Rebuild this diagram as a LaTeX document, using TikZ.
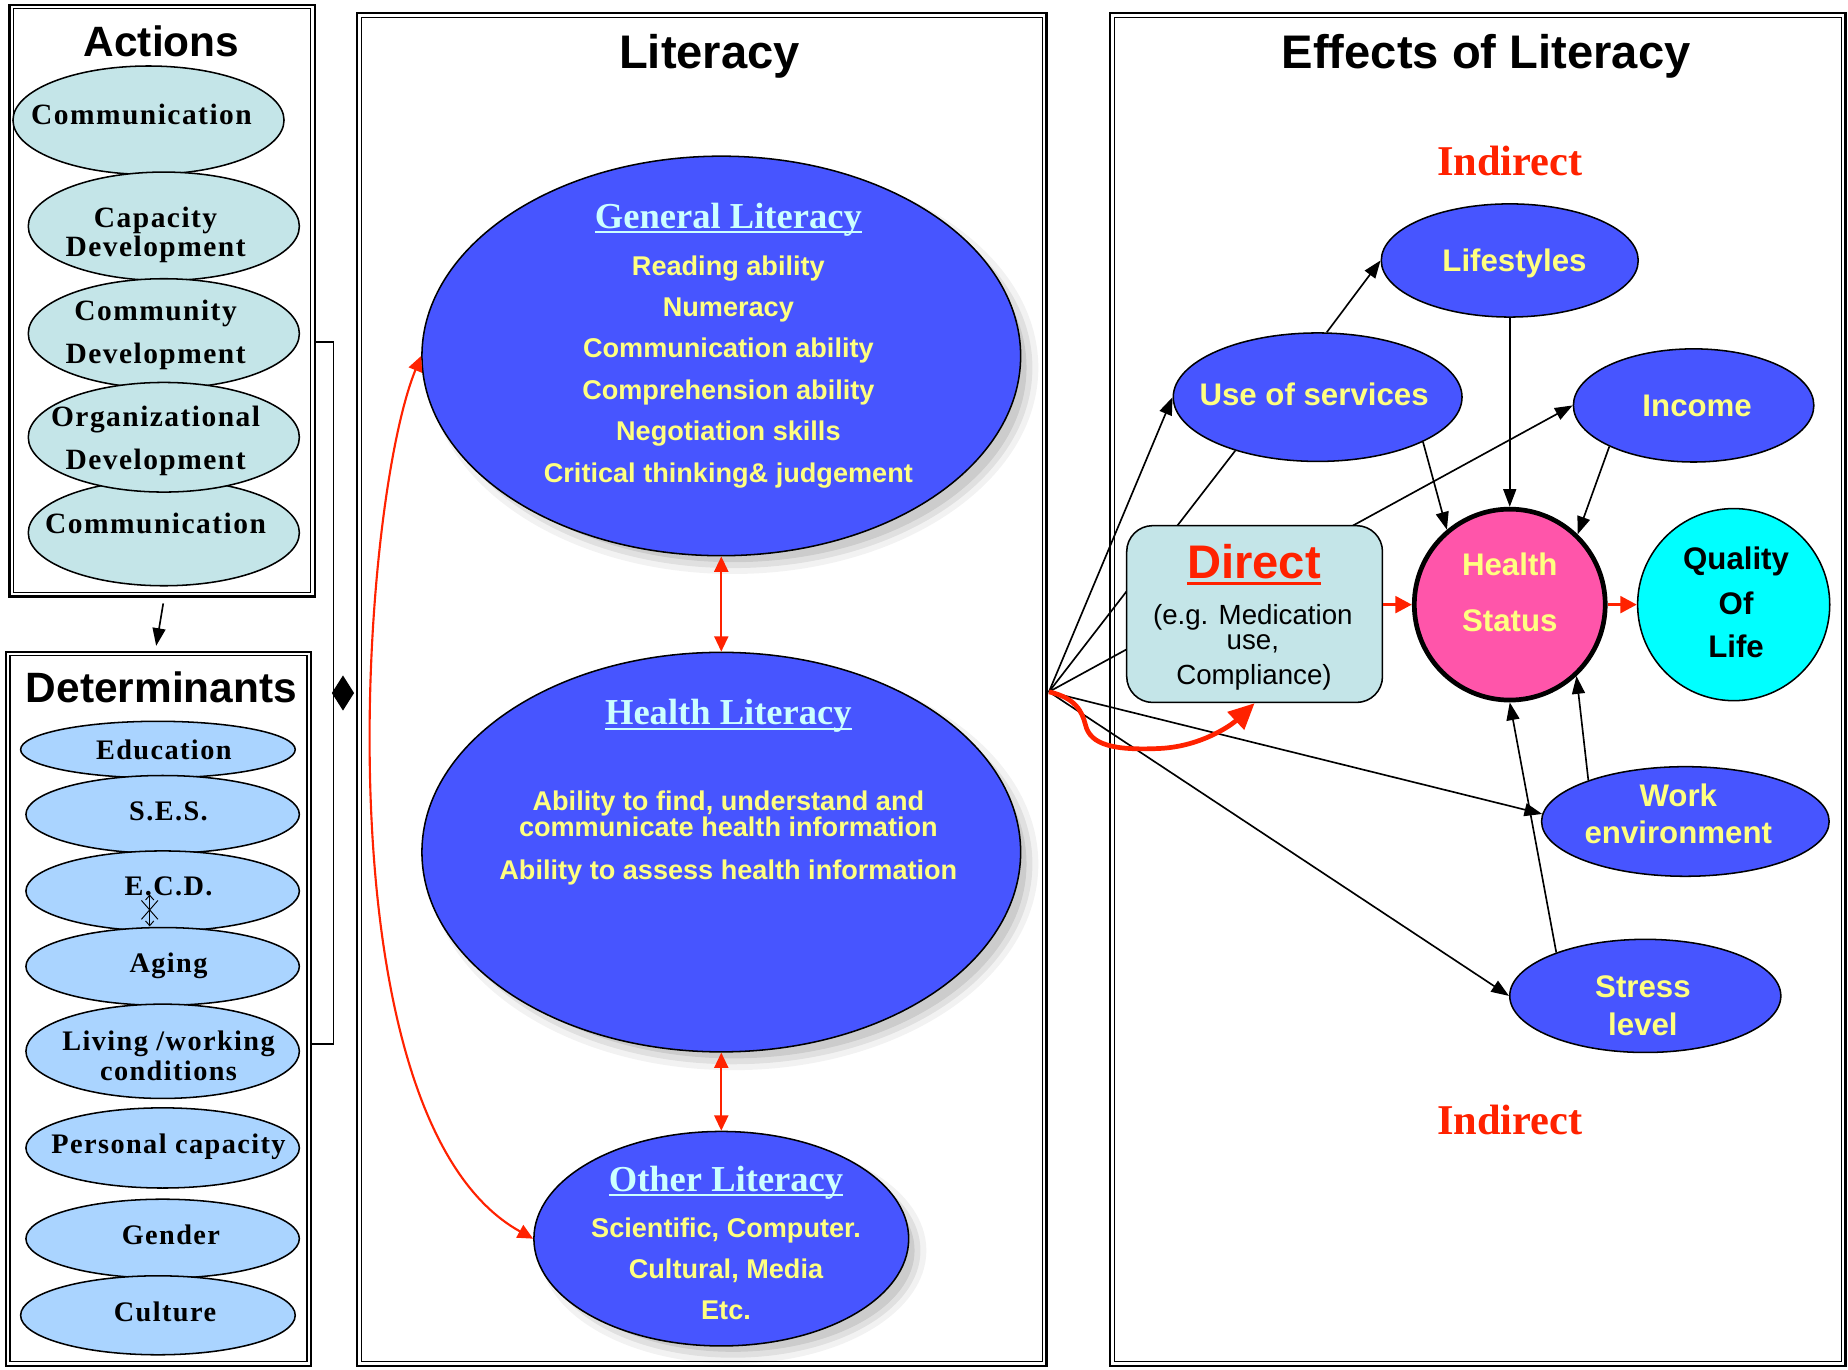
\documentclass[tikz,border=0pt]{standalone}
\usepackage{fontspec}
\setmainfont{Liberation Serif}
\newfontfamily\arial{Liberation Sans}
\newfontfamily\tnrw{Liberation Serif}[LetterSpace=5]
\usetikzlibrary{shapes.geometric,arrows.meta,calc}
\definecolor{actfill}{HTML}{C4E5E8}
\definecolor{detfill}{HTML}{AAD4FF}
\definecolor{litblue}{HTML}{4755FF}
\definecolor{ylw}{HTML}{FFFF80}
\definecolor{cyantxt}{HTML}{CCFFFF}
\definecolor{redc}{HTML}{FF2200}
\definecolor{pinkc}{HTML}{FF55AA}
\definecolor{qolc}{HTML}{00FFFF}
\newcommand\myul[3]{\setbox0=\hbox{#3}\rlap{\rule[#1]{\wd0}{#2}}\box0}
\newcommand\softshadow[4]{\foreach \k/\o in {0/0.09,5/0.07,10/0.05}{\fill[black,opacity=\o] (#1+10,#2+10) ellipse [x radius=#3-5+\k, y radius=#4-5+\k];}}
\newcommand\panel[5]{%
  \node[draw, line width=2pt, inner sep=0pt, minimum width=#4, minimum height=#5] (#1) at (#2,#3) {};
  \draw[line width=0.9pt] ($(#1.south west)+(4.5,-4.5)$) rectangle ($(#1.north east)+(-4.5,4.5)$);}
\begin{document}
\begin{tikzpicture}[x=1pt,y=-1pt,
  ell/.style={ellipse, draw=black, line width=1.3pt, inner sep=0pt},
  t/.style={anchor=base, inner sep=0pt},
  ttl/.style={t, font=\arial\bfseries\fontsize{36}{40}\selectfont},
  ttlL/.style={t, font=\arial\bfseries\fontsize{40}{44}\selectfont},
  actt/.style={t, font=\tnrw\bfseries\fontsize{25}{28}\selectfont},
  dett/.style={t, font=\tnrw\bfseries\fontsize{24}{26}\selectfont},
  littl/.style={t, text=cyantxt, font=\bfseries\fontsize{31}{34}\selectfont},
  lity/.style={t, text=ylw, font=\arial\bfseries\fontsize{23}{26}\selectfont},
  effy/.style={t, text=ylw, font=\arial\bfseries\fontsize{26.5}{30}\selectfont},
  effk/.style={t, text=black, font=\arial\bfseries\fontsize{26.5}{30}\selectfont},
  smallt/.style={t, text=black, font=\arial\fontsize{23.5}{26}\selectfont},
  ind/.style={t, text=redc, font=\bfseries\fontsize{36}{40}\selectfont},
  arr/.style={-{Triangle[length=15pt,width=11pt]}, line width=1.4pt},
  redd/.style={{Triangle[length=13pt,width=12pt]}-{Triangle[length=13pt,width=12pt]}, draw=redc, line width=1.5pt},
  reds/.style={-{Triangle[length=14pt,width=14pt]}, draw=redc, line width=3pt}
]
\useasboundingbox (0,0) rectangle (1568,1162);
\fill[white] (0,0) rectangle (1568,1162);

% ---------- panels ----------
\panel{actbox}{137.5}{255}{259}{502}
\panel{detbox}{134.5}{856}{259}{606}
\panel{litbox}{595.5}{585}{585}{1148}
\panel{effbox}{1254}{585}{624}{1148}

\node[ttl] (tAct) at (137,48) {Actions};
\node[ttl] (tDet) at (137,596) {Determinants};
\node[ttlL] (tLit) at (602,58) {Literacy};
\node[ttlL] (tEff) at (1261,58) {Effects of Literacy};

% ---------- Actions ----------
\node[ell, fill=actfill, minimum width=230, minimum height=92] (a1) at (126,102) {};
\node[ell, fill=actfill, minimum width=230, minimum height=92] (a2) at (139,192) {};
\node[ell, fill=actfill, minimum width=230, minimum height=93] (a3) at (139,283) {};
\node[ell, fill=actfill, minimum width=230, minimum height=90] (a5) at (139,452) {};
\node[ell, fill=actfill, minimum width=230, minimum height=93] (a4) at (139,371) {};
\node[actt] (a1t) at (120,106) {Communication};
\node[actt] (a2t) at (132,193) {Capacity};
\node[actt] (a2u) at (132,218) {Development};
\node[actt] (a3t) at (132,272) {Community};
\node[actt] (a3u) at (132,308) {Development};
\node[actt] (a4t) at (132,362) {Organizational};
\node[actt] (a4u) at (132,398) {Development};
\node[actt] (a5t) at (132,453) {Communication};

% ---------- Determinants ----------
\node[ell, fill=detfill, minimum width=233, minimum height=48] (d1) at (134,636) {};
\node[ell, fill=detfill, minimum width=232, minimum height=66] (d2) at (138,691) {};
\node[ell, fill=detfill, minimum width=232, minimum height=68] (d3) at (138,756) {};
\node[ell, fill=detfill, minimum width=232, minimum height=66] (d4) at (138,820) {};
\node[ell, fill=detfill, minimum width=232, minimum height=80] (d5) at (138,892) {};
\node[ell, fill=detfill, minimum width=232, minimum height=68] (d6) at (138,974) {};
\node[ell, fill=detfill, minimum width=232, minimum height=67] (d7) at (138,1051) {};
\node[ell, fill=detfill, minimum width=233, minimum height=67] (d8) at (134,1116) {};
\node[dett] (d1t) at (139,644) {Education};
\node[dett] (d2t) at (143,696) {S.E.S.};
\node[dett] (d3t) at (143,760) {E.C.D.};
\node[dett] (d4t) at (143,825) {Aging};
\node[dett] (d5t) at (143,891) {Living /working};
\node[dett] (d5u) at (143,917) {conditions};
\node[dett] (d6t) at (143,979) {Personal capacity};
\node[dett] (d7t) at (145,1056) {Gender};
\node[dett] (d8t) at (140,1121) {Culture};
% small glyph under E.C.D.
\draw[line width=0.8pt, {Straight Barb[length=4pt,width=7pt]}-{Straight Barb[length=4pt,width=7pt]}] (127,759) -- (127,786);
\draw[line width=0.8pt] (120,764) -- (134,780) (134,764) -- (120,780);

% ---------- left connectors ----------
\draw[arr] ($(actbox.south)+(1,5)$) -- ($(detbox.north)+(-2,-4)$);
\coordinate (brTop) at (283,290);
\coordinate (brBot) at (283,886);
\draw[line width=1.6pt] (actbox.east |- brTop) -- (brTop) -- (brBot) -- (detbox.east |- brBot);
\node[diamond, fill=black, inner sep=0pt, minimum width=19, minimum height=30] (dia) at (291,588) {};

% ---------- Literacy ----------
\softshadow{612}{302}{254}{170}
\softshadow{612}{723}{254}{170}
\softshadow{612}{1051}{159}{91}
\node[ell, fill=litblue, minimum width=508, minimum height=339] (gen) at (612,302) {};
\node[ell, fill=litblue, minimum width=508, minimum height=339] (hl) at (612,723) {};
\node[ell, fill=litblue, minimum width=318, minimum height=182] (ol) at (612,1051) {};

\node[littl] (genT) at (618,194) {\myul{-4pt}{1.6pt}{General Literacy}};
\node[lity] (g1) at (618,233.6) {Reading ability};
\node[lity] (g2) at (618,268.6) {Numeracy};
\node[lity] (g3) at (618,303.6) {Communication ability};
\node[lity] (g4) at (618,338.6) {Comprehension ability};
\node[lity] (g5) at (618,373.6) {Negotiation skills};
\node[lity] (g6) at (618,409.6) {Critical thinking\& judgement};

\node[littl] (hlT) at (618,615) {\myul{-4pt}{1.6pt}{Health Literacy}};
\node[lity] (h1) at (618,688) {Ability to find, understand and};
\node[lity] (h2) at (618,710) {communicate health information};
\node[lity] (h3) at (618,746) {Ability to assess health information};

\node[littl] (olT) at (616,1011) {\myul{-4pt}{1.6pt}{Other Literacy}};
\node[lity] (o1) at (616,1049.6) {Scientific, Computer.};
\node[lity] (o2) at (616,1084.6) {Cultural, Media};
\node[lity] (o3) at (616,1119.6) {Etc.};

\draw[redd] (gen.south) -- (hl.north);
\draw[redd] (hl.south) -- (ol.north);
\draw[redd, line width=1.8pt] (gen.west) .. controls (305,430) and (270,950) .. (ol.west);

% ---------- Effects ----------
\node[ind] (ind1) at (1281,149) {Indirect};
\node[ind] (ind2) at (1281,963) {Indirect};

\coordinate (hub) at (890,587);

\node[ell, fill=litblue, minimum width=218, minimum height=96] (life) at (1281,221) {};
\node[ell, fill=litblue, minimum width=245, minimum height=109] (use) at (1118,337) {};
\node[ell, fill=litblue, minimum width=204, minimum height=96] (income) at (1437,344) {};
\node[ell, fill=litblue, minimum width=244, minimum height=93] (work) at (1430,697) {};
\node[ell, fill=litblue, minimum width=230, minimum height=96] (stress) at (1396,845) {};

% lines from hub (behind the Direct box)
\draw[line width=1.4pt] (hub) -- (use.213);
\draw[arr] (hub) -- (income.west);
\draw[arr] (hub) -- (use.west);
\draw[arr] (hub) -- (work.177);
\draw[arr] (hub) -- (stress.west);

\node[draw=black, line width=1.3pt, fill=actfill, rounded corners=22pt, inner sep=0pt, minimum width=217, minimum height=150] (direct) at (1064.5,521) {};
\node[t, text=redc, font=\arial\bfseries\fontsize{40}{44}\selectfont] (dirT) at (1064,491) {\myul{-5.5pt}{2.6pt}{Direct}};
\node[smallt] (dir1) at (1063,530) {(e.g. Medication};
\node[smallt] (dir2) at (1063,551) {use,};
\node[smallt] (dir3) at (1064,581) {Compliance)};

\node[circle, draw=black, line width=4pt, fill=pinkc, inner sep=0pt, minimum size=162] (hs) at (1281,513) {};
\node[ellipse, draw=black, line width=1.3pt, fill=qolc, inner sep=0pt, minimum width=163, minimum height=163] (qol) at (1471,513) {};

\node[effy] (lifeT) at (1285,230.7) {Lifestyles};
\node[effy] (useT) at (1115,343.7) {Use of services};
\node[effy] (incT) at (1440,353.7) {Income};
\node[effy] (hsT1) at (1281,488) {Health};
\node[effy] (hsT2) at (1281,536) {Status};
\node[effk] (q1) at (1473,483) {Quality};
\node[effk] (q2) at (1473,521) {Of};
\node[effk] (q3) at (1473,558) {Life};
\node[effy] (w1) at (1424,684) {Work};
\node[effy] (w2) at (1424,716) {environment};
\node[effy] (s1) at (1394,846) {Stress};
\node[effy] (s2) at (1394,879) {level};

\draw[arr] (use.82) -- (life.west);
\draw[arr] (life.south) -- (hs.north);
\draw[arr] (use.-23) -- (hs.130);
\draw[arr] (income.206) -- (hs.46);
\draw[arr] (work.157) -- (hs.-47);
\draw[arr] (stress.154) -- (hs.south);

\draw[reds] (direct.east |- hs.west) -- (hs.west);
\draw[reds] (hs.east) -- (qol.west);
\draw[draw=redc, line width=4pt, -{Triangle[length=22pt,width=20pt]}] (hub) .. controls (912,592) and (918,603) .. (921,615) .. controls (925,632) and (945,637) .. (985,635) .. controls (1020,633) and (1045,615) .. (direct.south);
\end{tikzpicture}
\end{document}
